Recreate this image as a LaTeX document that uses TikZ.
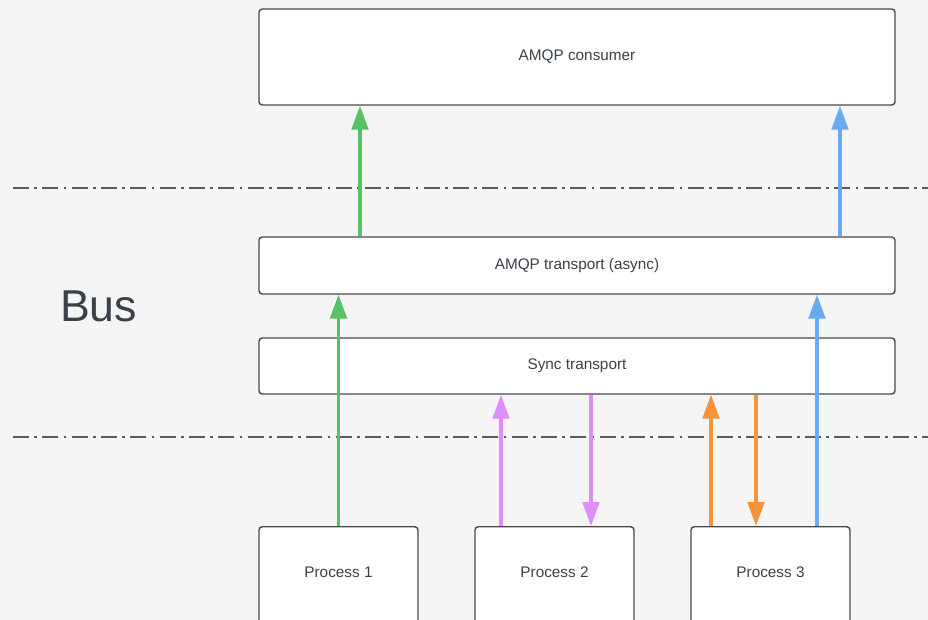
\documentclass[tikz,border=0pt]{standalone}
\usepackage{fontspec}
\setmainfont{Liberation Sans}
\usetikzlibrary{arrows.meta}
\definecolor{bgc}{HTML}{F5F5F5}
\definecolor{edgec}{HTML}{4A4A4A}
\definecolor{txtc}{HTML}{3A414A}
\definecolor{gArrow}{HTML}{57C167}
\definecolor{bArrow}{HTML}{6AAAF0}
\definecolor{pArrow}{HTML}{E08EF7}
\definecolor{oArrow}{HTML}{F7943A}
\tikzset{
  box/.style={draw=edgec, line width=1.1pt, fill=white, rounded corners=2.5pt,
    text=txtc, font=\fontsize{11.5pt}{13pt}\selectfont, inner sep=0pt},
  flow/.style={line width=2.4pt, -{Triangle[width=12.5pt,length=18pt]}},
  sep/.style={draw=edgec!90, line width=0.8pt,
    dash pattern=on 12pt off 4pt on 2pt off 4pt}
}
\begin{document}
\begin{tikzpicture}[x=0.75pt,y=-0.75pt]
  \fill[bgc] (0,0) rectangle (928,620);
  \useasboundingbox (0,0) rectangle (928,620);

  % layer separators
  \coordinate (s1a) at (13,188);
  \coordinate (s1b) at (928,188);
  \coordinate (s2a) at (13,437);
  \coordinate (s2b) at (928,437);
  \draw[sep] (s1a) -- (s1b);
  \draw[sep] (s2a) -- (s2b);

  \node[text=txtc, font=\fontsize{33.5pt}{38pt}\selectfont, anchor=center] (bus) at (98.5,306) {Bus};

  % boxes
  \node[box, minimum width=636*0.75pt, minimum height=96*0.75pt] (cons) at (577,57) {AMQP consumer};
  \node[box, minimum width=636*0.75pt, minimum height=57*0.75pt] (amqp) at (577,265.5) {AMQP transport (async)};
  \node[box, minimum width=636*0.75pt, minimum height=56*0.75pt] (sync) at (577,366) {Sync transport};

  \begin{scope}
    \clip (0,0) rectangle (928,620);
    \node[box, minimum width=159*0.75pt, minimum height=120*0.75pt, anchor=north] (p1) at (338.5,526) {};
    \node[box, minimum width=159*0.75pt, minimum height=120*0.75pt, anchor=north] (p2) at (554.5,526) {};
    \node[box, minimum width=159*0.75pt, minimum height=120*0.75pt, anchor=north] (p3) at (770.5,526) {};
  \end{scope}
  \node[text=txtc, font=\fontsize{11.5pt}{13pt}\selectfont] (t1) at (338.5,572) {Process 1};
  \node[text=txtc, font=\fontsize{11.5pt}{13pt}\selectfont] (t2) at (554.5,572) {Process 2};
  \node[text=txtc, font=\fontsize{11.5pt}{13pt}\selectfont] (t3) at (770.5,572) {Process 3};

  % async path (green: process 1, blue: process 3)
  \draw[flow, gArrow] (p1.north) -- (p1.north |- amqp.south);
  \draw[flow, gArrow] (360,0 |- amqp.north) -- (360,0 |- cons.south);
  \draw[flow, bArrow] (817,0 |- p3.north) -- (817,0 |- amqp.south);
  \draw[flow, bArrow] (840,0 |- amqp.north) -- (840,0 |- cons.south);

  % sync request / reply
  \draw[flow, pArrow] (501,0 |- p2.north) -- (501,0 |- sync.south);
  \draw[flow, pArrow] (591,0 |- sync.south) -- (591,0 |- p2.north);
  \draw[flow, oArrow] (711,0 |- p3.north) -- (711,0 |- sync.south);
  \draw[flow, oArrow] (756,0 |- sync.south) -- (756,0 |- p3.north);
\end{tikzpicture}
\end{document}
